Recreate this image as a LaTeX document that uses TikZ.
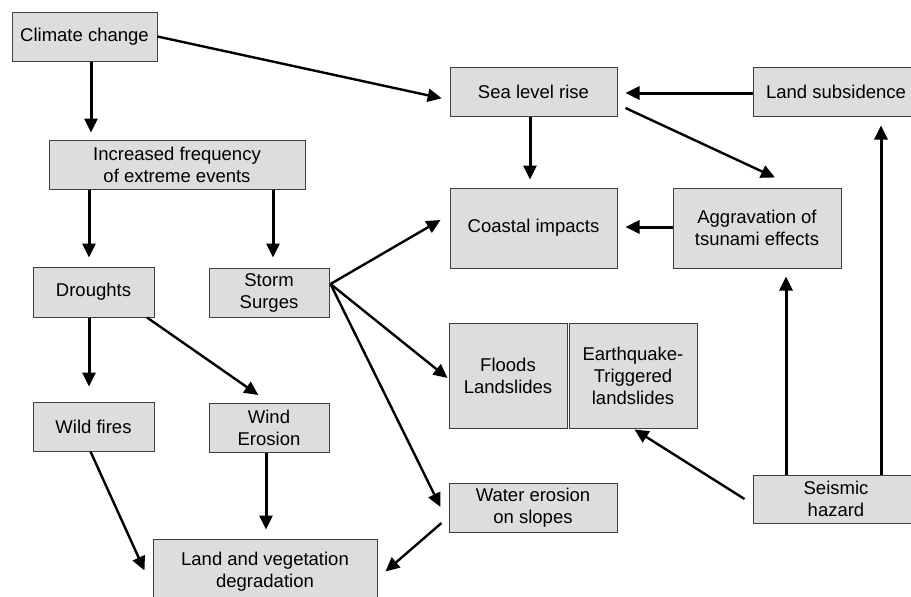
\documentclass[tikz,border=0pt]{standalone}
\usepackage{fontspec}
\setmainfont{Liberation Sans}
\usetikzlibrary{arrows.meta,calc}
\definecolor{boxfill}{HTML}{DDDDDD}
\definecolor{boxline}{HTML}{404040}
\begin{document}
\begin{tikzpicture}[x=1pt,y=-1pt,
  box/.style={draw=boxline,line width=1pt,fill=boxfill,inner sep=0pt,
    align=center,font=\fontsize{18.5}{22}\selectfont},
  arr/.style={line width=3pt,-{Triangle[length=14pt,width=13pt]}},
  darr/.style={line width=2.4pt,-{Triangle[length=14pt,width=13pt]}}]
\useasboundingbox (0,0) rectangle (911,597);
\clip (0,0) rectangle (911,597);
\fill[white] (0,0) rectangle (911,597);

% boxes
\node[box,minimum width=145pt,minimum height=49pt] (cc)  at (84.5,36.5)  {Climate change};
\node[box,minimum width=256pt,minimum height=49pt] (ifr) at (177,164.5)  {Increased frequency\\of extreme events};
\node[box,minimum width=167pt,minimum height=49pt] (slr) at (533.5,91.5) {Sea level rise};
\node[box,minimum width=166pt,minimum height=49pt] (ls)  at (836,91.5)   {Land subsidence};
\node[box,minimum width=167pt,minimum height=80pt] (ci)  at (533.5,228)  {Coastal impacts};
\node[box,minimum width=168pt,minimum height=80pt] (ag)  at (757,228)    {Aggravation of\\tsunami effects};
\node[box,minimum width=121pt,minimum height=50pt] (dr)  at (93.5,292)   {Droughts};
\node[box,minimum width=120pt,minimum height=49pt] (ss)  at (269,292.5)  {Storm\\Surges};
\node[box,minimum width=118pt,minimum height=105pt] (fl) at (508,375.5)  {Floods\\Landslides};
\node[box,minimum width=128pt,minimum height=105pt] (eq) at (633,375.5) {Earthquake-\\Triggered\\landslides};
\node[box,minimum width=121pt,minimum height=49pt] (wf)  at (93.5,426.5) {Wild fires};
\node[box,minimum width=120pt,minimum height=49pt] (we)  at (269,427.5)  {Wind\\Erosion};
\node[box,minimum width=166pt,minimum height=48pt] (sh)  at (836,499)    {Seismic\\hazard};
\node[box,minimum width=168pt,minimum height=49pt] (wr)  at (533,507.5)  {Water erosion\\on slopes};
\node[box,minimum width=224pt,minimum height=65pt] (lv)  at (265,571.5)  {Land and vegetation\\degradation};

% connectors
\draw[arr,shorten >=7pt] (cc.south -| 91,0) -- (ifr.north -| 91,0);
\draw[darr,shorten >=8pt] (cc.east) -- (slr.west |- 0,100);
\draw[arr,shorten >=9pt] (ifr.south -| 89,0) -- (dr.north -| 89,0);
\draw[arr,shorten >=10pt] (ifr.south -| 273,0) -- (ss.north -| 273,0);
\draw[arr,shorten >=15pt] (dr.south -| 89,0) -- (wf.north -| 89,0);
\draw[darr,shorten >=13pt] (dr.south -| 147,0) -- (we.north);
\draw[darr] ($(ss.east)+(1,-8.5)$) -- ($(ci.west)+(-9,-8)$);
\draw[darr] ($(ss.east)+(1,-8.5)$) -- ($(fl.west)+(-1,2.5)$);
\draw[darr] ($(ss.east)+(1,-8.5)$) -- ($(wr.west)+(-8,-0.5)$);
\draw[darr] ($(wf.south)+(-3,0)$) -- ($(lv.west)+(-8,-1)$);
\draw[arr,shorten >=9pt] (we.south -| 266,0) -- (lv.north -| 266,0);
\draw[darr] ($(wr.west)+(-7,15.5)$) -- ($(lv.east)+(8,0)$);
\draw[arr,shorten >=8pt] (ls.west |- 0,93) -- (slr.east |- 0,93);
\draw[arr,shorten >=8pt] (slr.south -| 530,0) -- (ci.north -| 530,0);
\draw[darr] ($(slr.east)+(8,16.5)$) -- ($(ag.north)+(18,-10)$);
\draw[arr,shorten >=8pt] (ag.west |- 0,227) -- (ci.east |- 0,227);
\draw[arr,shorten >=8pt] (sh.north -| 786,0) -- (ag.south -| 786,0);
\draw[arr,shorten >=9pt] (sh.north -| 881,0) -- (ls.south -| 881,0);
\draw[darr] ($(sh.west)+(-8,0)$) -- ($(eq.south)+(1.5,1)$);
\end{tikzpicture}
\end{document}
